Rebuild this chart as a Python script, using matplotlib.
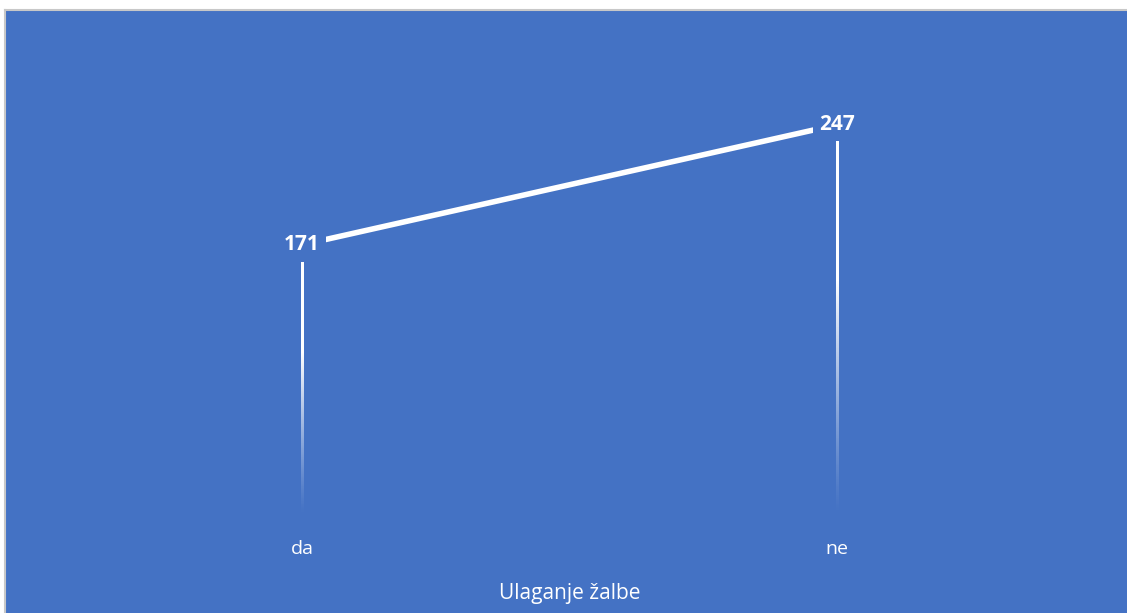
import numpy as np
import matplotlib
matplotlib.use('Agg')
import matplotlib.pyplot as plt

categories = ['da', 'ne']
values = [171, 247]
axis_title = 'Ulaganje žalbe'

BLUE = '#4472C4'
W, H = 1127, 613

plt.rcParams['font.family'] = ['Open Sans', 'DejaVu Sans']

fig = plt.figure(figsize=(W / 100, H / 100), dpi=100)
fig.patch.set_facecolor('white')

# chart area (blue panel, thin gray frame; right/bottom edges run off the image)
bg = fig.add_axes([5 / W, -6 / H, 1, 1 - 10 / H + 6 / H])
bg.set_facecolor(BLUE)
bg.set_xticks([]); bg.set_yticks([])
for s in bg.spines.values():
    s.set_color('#c8c8c8')
    s.set_linewidth(1.5)

# plot area
left, right, top, bottom = 34.5, 1104.5, 41, 515
ax = fig.add_axes([left / W, (H - bottom) / H, (right - left) / W, (bottom - top) / H])
ax.set_facecolor('none')
for s in ax.spines.values():
    s.set_visible(False)
x = np.arange(len(categories))
ax.set_xticks(x)
ax.set_xticklabels(categories, color='white', fontsize=14)
ax.tick_params(axis='x', length=0, pad=18)
ax.set_yticks([])

# drop lines fading toward the axis (gradient image)
half_w = 1.1 / (right - left) * 2
for xi, v in zip(x, values):
    n = 256
    frac = np.linspace(1, 0, n)  # top -> bottom
    alpha = np.clip(frac / 0.6, 0, 1) ** 1.2
    img = np.ones((n, 1, 4))
    img[:, 0, 3] = alpha
    ax.imshow(img, extent=[xi - half_w, xi + half_w, 0, v], aspect='auto',
              interpolation='bilinear', zorder=2)

ax.set_xlim(-0.5, 1.5)
ax.set_ylim(0, 300)
ax.plot(x, values, color='white', linewidth=4, solid_capstyle='butt', zorder=3)

for xi, v in zip(x, values):
    ax.text(xi, v, str(v), color='white', fontsize=15, fontweight='bold',
            ha='center', va='center', zorder=4,
            bbox=dict(boxstyle='square,pad=0.3', facecolor=BLUE, edgecolor='none'))

fig.text(570 / W, 1 - 593 / H, axis_title, color='white', fontsize=15,
         ha='center', va='center')

fig.savefig('out.png', dpi=100, facecolor=fig.get_facecolor())
